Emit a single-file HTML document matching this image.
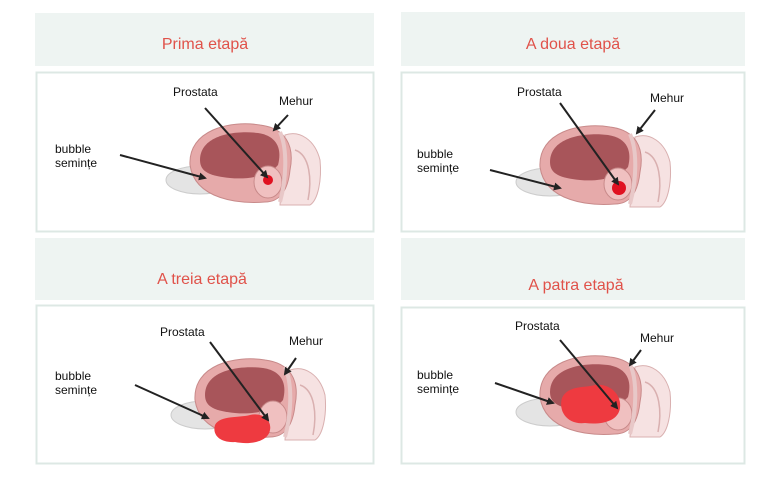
<!DOCTYPE html>
<html><head><meta charset="utf-8"><style>
body{margin:0;background:#fff;}
svg{display:block;font-family:"Liberation Sans",sans-serif;}
</style></head><body>
<svg width="774" height="480" viewBox="0 0 774 480">
<defs>
<marker id="ah" markerWidth="8" markerHeight="8" refX="6" refY="4" orient="auto" markerUnits="userSpaceOnUse"><path d="M0,0 L8,4 L0,8 z" fill="#222"/></marker>
<g id="anat">
  <path d="M45,-25 C60,-30 75,-20 80,0 C82,20 78,40 70,45 L40,45 Z" fill="#f6e2e2" stroke="#d9b0b0" stroke-width="1"/>
  <path d="M55,-10 C70,-5 72,20 68,40" fill="none" stroke="#d9b0b0" stroke-width="1.5"/>
  <ellipse cx="-40" cy="20" rx="34" ry="14" fill="#e4e4e4" stroke="#cccccc"/>
  <path d="M-50,5 C-52,-30 -10,-40 20,-35 C45,-32 55,-15 50,10 C48,30 40,42 25,42 C0,44 -45,40 -50,5 Z" fill="#e6aaaa" stroke="#c88a8a"/>
  <path d="M-40,0 C-40,-25 -5,-30 18,-27 C38,-24 42,-10 38,5 C30,15 10,20 -10,18 C-30,16 -40,12 -40,0 Z" fill="#a8555a"/>
  <ellipse cx="28" cy="22" rx="14" ry="16" fill="#f0c0c0" stroke="#c88a8a"/>
  <path d="M40,-28 C48,-10 46,20 40,42" fill="none" stroke="#e8c8c8" stroke-width="4"/>
</g>
</defs>
<rect x="35" y="13" width="339" height="53" fill="#eef4f2"/>
<rect x="401" y="12" width="344" height="54" fill="#eef4f2"/>
<rect x="35" y="238" width="339" height="62" fill="#eef4f2"/>
<rect x="401" y="238" width="344" height="62" fill="#eef4f2"/>
<rect x="36.5" y="72.5" width="337" height="159" fill="#fff" stroke="#dde8e4" stroke-width="2"/>
<rect x="401.5" y="72.5" width="343" height="159" fill="#fff" stroke="#dde8e4" stroke-width="2"/>
<rect x="36.5" y="305.5" width="337" height="158" fill="#fff" stroke="#dde8e4" stroke-width="2"/>
<rect x="401.5" y="307.5" width="343" height="156" fill="#fff" stroke="#dde8e4" stroke-width="2"/>
<g font-size="16" fill="#e0524a" text-anchor="middle">
<text x="205" y="49">Prima etapă</text>
<text x="573" y="49">A doua etapă</text>
<text x="202" y="284">A treia etapă</text>
<text x="576" y="290">A patra etapă</text>
</g>
<use href="#anat" transform="translate(240,160)"/>
<circle cx="268" cy="180" r="5" fill="#e01020"/>
<use href="#anat" transform="translate(590,162)"/>
<circle cx="619" cy="188" r="7" fill="#e01020"/>
<use href="#anat" transform="translate(245,395)"/>
<path d="M215,425 C220,415 240,418 250,415 C262,412 272,420 270,430 C268,442 250,445 235,442 C220,443 212,435 215,425 Z" fill="#ee3a40"/>
<use href="#anat" transform="translate(590,392)"/>
<path d="M562,398 C568,385 585,388 595,385 C610,383 622,395 620,408 C618,422 600,425 585,423 C568,425 558,412 562,398 Z" fill="#ee3a40"/>
<g font-size="12" fill="#111">
<text x="173" y="96">Prostata</text><text x="279" y="105">Mehur</text>
<text x="55" y="153">bubble</text><text x="55" y="167">semințe</text>
<text x="517" y="96">Prostata</text><text x="650" y="102">Mehur</text>
<text x="417" y="158">bubble</text><text x="417" y="172">semințe</text>
<text x="160" y="336">Prostata</text><text x="289" y="345">Mehur</text>
<text x="55" y="380">bubble</text><text x="55" y="394">semințe</text>
<text x="515" y="330">Prostata</text><text x="640" y="342">Mehur</text>
<text x="417" y="379">bubble</text><text x="417" y="393">semințe</text>
</g>
<g stroke="#222" stroke-width="2" marker-end="url(#ah)">
<line x1="120" y1="155" x2="205" y2="178"/>
<line x1="205" y1="108" x2="267" y2="177"/>
<line x1="288" y1="115" x2="274" y2="130"/>
<line x1="490" y1="170" x2="560" y2="188"/>
<line x1="560" y1="103" x2="618" y2="184"/>
<line x1="655" y1="110" x2="637" y2="133"/>
<line x1="135" y1="385" x2="208" y2="418"/>
<line x1="210" y1="342" x2="268" y2="420"/>
<line x1="296" y1="358" x2="285" y2="374"/>
<line x1="495" y1="383" x2="553" y2="403"/>
<line x1="560" y1="340" x2="617" y2="408"/>
<line x1="641" y1="350" x2="630" y2="365"/>
</g>
</svg>
</body></html>
